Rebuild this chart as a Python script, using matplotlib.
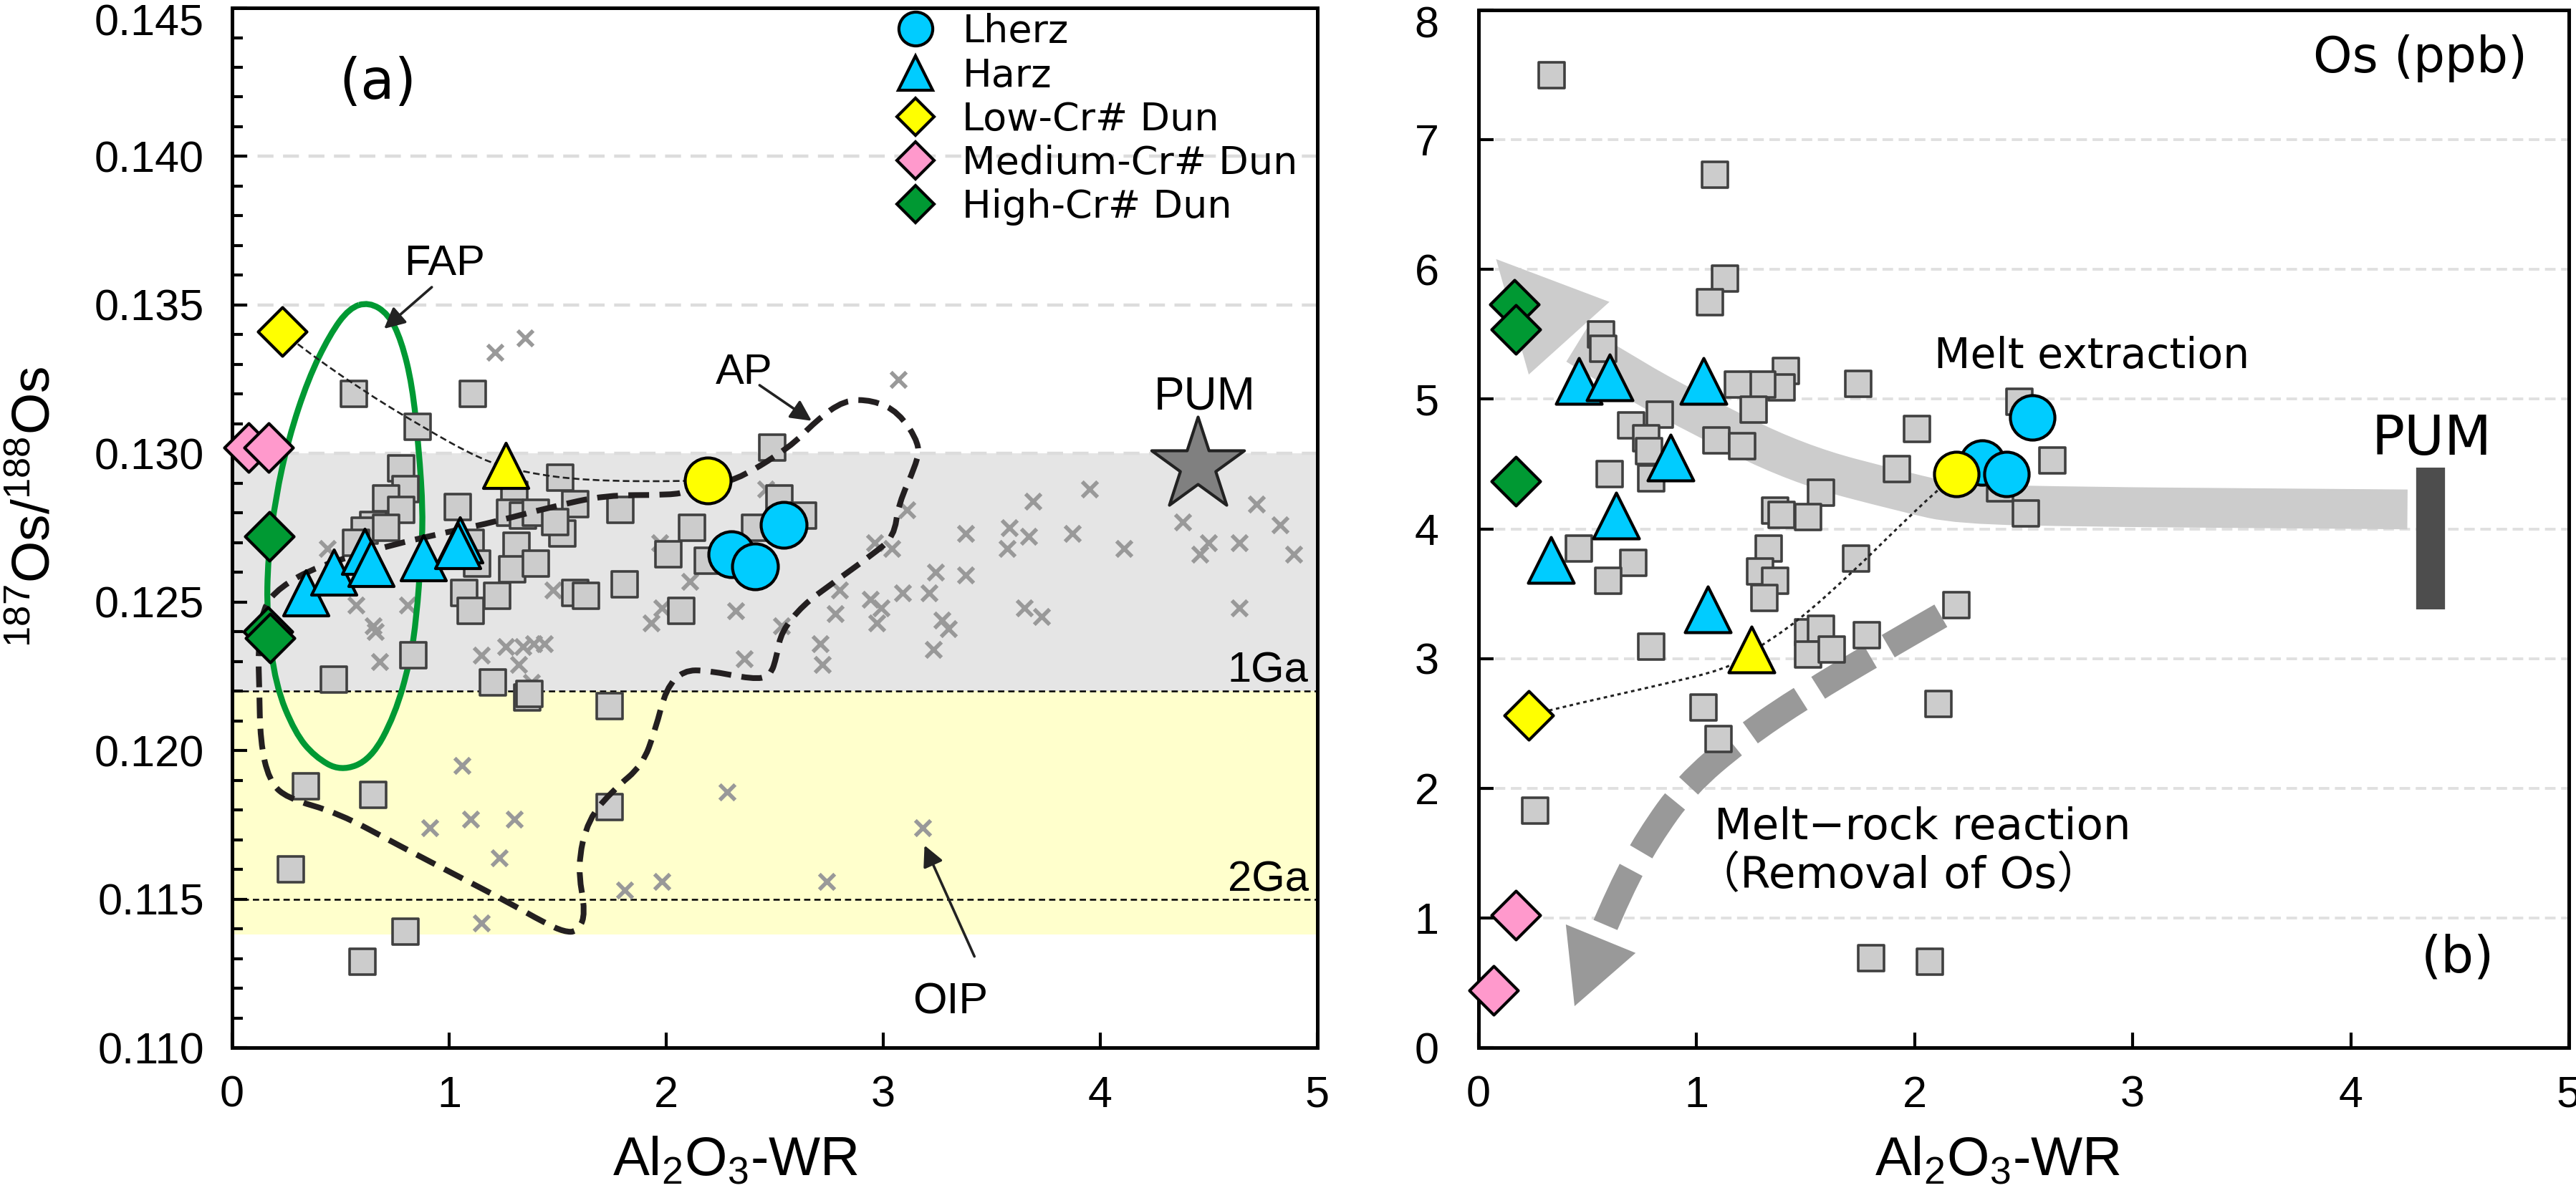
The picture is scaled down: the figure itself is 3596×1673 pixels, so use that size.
import matplotlib
matplotlib.use('Agg')
import matplotlib.pyplot as plt
from matplotlib.path import Path
from matplotlib.patches import PathPatch, Polygon
from matplotlib.lines import Line2D
from matplotlib.transforms import ScaledTranslation

plt.rcParams['font.family'] = ['Liberation Sans', 'DejaVu Sans']
plt.rcParams['mathtext.fontset'] = 'custom'
plt.rcParams['mathtext.rm'] = 'Liberation Sans'
plt.rcParams['mathtext.it'] = 'Liberation Sans:italic'

# ---------------- panel (a): 187Os/188Os vs Al2O3 ----------------
sq_a_x = [0.56, 1.11, 0.855, 2.49, 0.78, 1.51, 0.80, 0.71, 0.78, 1.04, 1.30, 1.58, 1.79, 2.52, 2.63,
          2.12, 2.41, 2.01, 2.19, 1.28, 1.34, 1.40, 1.52, 1.49, 0.65, 0.61, 0.71, 0.57, 1.10, 1.13,
          1.31, 1.29, 1.40, 1.07, 1.22, 1.10, 1.58, 1.63, 1.81, 2.07, 0.835, 0.47, 1.20, 1.36, 1.37,
          1.74, 0.34, 0.65, 1.74, 0.27, 0.80, 0.60]
sq_a_y = [0.1320, 0.1320, 0.1309, 0.1302, 0.1295, 0.1292, 0.1288, 0.1285, 0.1281, 0.1282, 0.1286,
          0.1283, 0.1281, 0.1285, 0.1279, 0.1275, 0.1275, 0.1266, 0.1264, 0.1280, 0.1279, 0.1280,
          0.1273, 0.1277, 0.1276, 0.1274, 0.1275, 0.1270, 0.1270, 0.1263, 0.1269, 0.1261, 0.1263,
          0.1253, 0.1252, 0.1247, 0.1253, 0.1252, 0.1256, 0.1247, 0.1232, 0.1224, 0.1223, 0.1218,
          0.1219, 0.1215, 0.1188, 0.1185, 0.1181, 0.1160, 0.1139, 0.1129]

oip_x = [1.21, 1.35, 3.07, 0.44, 0.57, 0.65, 0.66, 0.68, 0.81, 1.15, 1.26, 1.32, 1.34, 1.39, 1.44,
         1.38, 1.48, 1.97, 2.11, 1.98, 1.93, 2.32, 2.36, 2.53, 2.71, 2.72, 2.78, 2.80, 2.46, 1.06,
         1.10, 1.30, 0.91, 1.23, 1.15, 1.81, 1.98, 2.28, 2.74, 3.95, 3.69, 4.72, 4.83, 4.38, 4.89,
         4.50, 4.46, 4.64, 4.11, 3.87, 3.67, 3.58, 3.57, 3.38, 3.38, 3.24, 3.21, 3.09, 3.11, 3.04,
         2.96, 2.94, 2.99, 2.97, 3.27, 3.30, 3.23, 3.65, 3.73, 4.64, 3.18]
oip_y = [0.1334, 0.1339, 0.1325, 0.1268, 0.1249, 0.1242, 0.1240, 0.1230, 0.1249, 0.1232, 0.1235,
         0.1229, 0.1235, 0.1236, 0.1236, 0.1223, 0.1254, 0.1270, 0.1257, 0.1248, 0.1243, 0.1247,
         0.1231, 0.1242, 0.1236, 0.1229, 0.1246, 0.1254, 0.1288, 0.1195, 0.1177, 0.1177, 0.1174,
         0.1164, 0.1142, 0.1153, 0.1156, 0.1186, 0.1156, 0.1288, 0.1284, 0.1283, 0.1276, 0.1277,
         0.1266, 0.1270, 0.1266, 0.1270, 0.1268, 0.1273, 0.1272, 0.1275, 0.1268, 0.1273, 0.1259,
         0.1260, 0.1253, 0.1253, 0.1281, 0.1268, 0.1270, 0.1251, 0.1248, 0.1243, 0.1244, 0.1241,
         0.1234, 0.1248, 0.1245, 0.1248, 0.1174]

lherz_a_x = [2.54, 2.30, 2.41]
lherz_a_y = [0.1276, 0.1266, 0.1262]
harz_a_x = [0.34, 0.47, 0.61, 0.64, 0.88, 1.05, 1.04]
harz_a_y = [0.1253, 0.1260, 0.1267, 0.1263, 0.1265, 0.1271, 0.1269]
lowcr_a = (0.23, 0.1341)
yel_tri_a = (1.26, 0.1296)
yel_circ_a = (2.19, 0.1291)
medcr_a_x = [0.076, 0.168]
medcr_a_y = [0.1302, 0.1302]
highcr_a_x = [0.17, 0.165, 0.175]
highcr_a_y = [0.1272, 0.1240, 0.1238]
pum_a = (4.45, 0.1296)

# outlines of the fields
fap_x = [0.63, 0.72, 0.78, 0.83, 0.86, 0.88, 0.87, 0.85, 0.82, 0.75, 0.64, 0.50, 0.38, 0.29, 0.20,
         0.16, 0.165, 0.20, 0.26, 0.35, 0.45, 0.54]
fap_y = [0.1351, 0.1347, 0.1338, 0.1323, 0.1302, 0.1280, 0.1265, 0.1245, 0.1230, 0.1212, 0.1197,
         0.1193, 0.1198, 0.1206, 0.1222, 0.1245, 0.1265, 0.1285, 0.1305, 0.1325, 0.1340, 0.1349]
ap_x = [2.19, 2.30, 2.57, 2.69, 2.82, 2.95, 3.07, 3.17, 3.15, 3.07, 3.05, 2.95, 2.76, 2.63, 2.53,
        2.51, 2.48, 2.40, 2.19, 2.08, 2.00, 1.95, 1.89, 1.76, 1.64, 1.59, 1.63, 1.59, 1.53, 1.44,
        1.27, 1.06, 0.77, 0.49, 0.25, 0.17, 0.13, 0.125, 0.12, 0.14, 0.22, 0.39, 0.72, 1.02, 1.21,
        1.47, 1.72, 2.00, 2.10]
ap_y = [0.1291, 0.1290, 0.1302, 0.1311, 0.1318, 0.1318, 0.1314, 0.1303, 0.1296, 0.1283, 0.1272,
        0.1266, 0.1256, 0.1249, 0.1240, 0.1232, 0.1225, 0.1224, 0.1227, 0.1227, 0.1221, 0.1207,
        0.1195, 0.1187, 0.1177, 0.1161, 0.1145, 0.1139, 0.1139, 0.1142, 0.1149, 0.1157, 0.1168,
        0.1179, 0.1184, 0.1190, 0.1203, 0.1222, 0.1234, 0.1248, 0.1255, 0.1262, 0.1269, 0.1274,
        0.1277, 0.1282, 0.1286, 0.1286, 0.1287]
trend_a_x = [0.23, 0.30, 0.58, 0.87, 1.15, 1.34, 1.63, 2.10, 2.19]
trend_a_y = [0.1341, 0.13367, 0.13222, 0.13092, 0.12978, 0.12937, 0.12908, 0.12906, 0.1291]

# ---------------- panel (b): Os (ppb) vs Al2O3 ----------------
sq_b_x = [0.335, 1.085, 1.13, 1.06, 0.56, 0.57, 1.41, 1.39, 1.30, 1.19, 1.26, 1.74, 0.83, 0.70, 0.77,
          0.78, 0.79, 1.09, 1.21, 2.01, 1.92, 0.60, 1.57, 1.36, 1.39, 1.51, 0.46, 0.71, 1.33, 1.73,
          0.595, 1.29, 1.36, 1.31, 0.79, 1.51, 1.57, 1.51, 1.62, 1.78, 2.19, 1.03, 1.10, 2.11, 0.26,
          1.80, 2.07, 2.48, 2.63, 2.51, 2.39]
sq_b_y = [7.50, 6.73, 5.93, 5.75, 5.50, 5.39, 5.22, 5.09, 5.11, 5.11, 4.92, 5.12, 4.88, 4.80, 4.70,
          4.60, 4.39, 4.68, 4.64, 4.77, 4.46, 4.42, 4.28, 4.14, 4.11, 4.09, 3.85, 3.74, 3.85, 3.77,
          3.60, 3.67, 3.60, 3.47, 3.09, 3.20, 3.23, 3.03, 3.07, 3.18, 3.41, 2.62, 2.38, 2.65, 1.83,
          0.69, 0.66, 4.98, 4.53, 4.12, 4.31]
lherz_b_x = [2.31, 2.42, 2.54]
lherz_b_y = [4.51, 4.42, 4.86]
harz_b_x = [0.46, 0.60, 1.03, 0.88, 0.63, 0.33, 1.05]
harz_b_y = [5.14, 5.17, 5.14, 4.55, 4.10, 3.76, 3.38]
lowcr_b = (0.23, 2.56)
yel_tri_b = (1.25, 3.07)
yel_circ_b = (2.19, 4.42)
medcr_b_x = [0.17, 0.07]
medcr_b_y = [1.02, 0.44]
highcr_b_x = [0.165, 0.17, 0.17]
highcr_b_y = [5.73, 5.54, 4.37]
pum_b_x = 4.365
pum_b_range = (3.38, 4.47)

trend_b_x = [0.23, 0.34, 0.79, 1.14, 1.25, 1.46, 1.73, 1.88, 2.11, 2.19]
trend_b_y = [2.56, 2.61, 2.78, 2.92, 3.05, 3.28, 3.69, 3.94, 4.31, 4.42]
melt_x = [4.26, 3.5, 2.8, 2.2, 1.96, 1.46, 0.96, 0.70, 0.45]
melt_y = [4.15, 4.16, 4.17, 4.19, 4.28, 4.50, 4.92, 5.16, 5.42]
melt_head = [(0.08, 6.08), (0.60, 5.75), (0.23, 5.19)]
react_x = [2.12, 1.83, 1.50, 1.20, 0.95, 0.78, 0.65, 0.56]
react_y = [3.33, 3.05, 2.72, 2.38, 2.02, 1.62, 1.22, 0.86]
react_head = [(0.44, 0.32), (0.40, 0.95), (0.72, 0.73)]

CYAN = '#00ccff'
YEL = '#ffff00'
PINK = '#ff99cc'
GREEN = '#009933'
SQ_FC = '#cccccc'
SQ_EC = '#404040'


def smooth(xs, ys, closed=False):
    pts = list(zip(xs, ys))
    n = len(pts)
    mid = lambda a, b: ((a[0] + b[0]) / 2, (a[1] + b[1]) / 2)
    if closed:
        verts = [mid(pts[-1], pts[0])]
        codes = [Path.MOVETO]
        for i in range(n):
            verts += [pts[i], mid(pts[i], pts[(i + 1) % n])]
            codes += [Path.CURVE3, Path.CURVE3]
    else:
        verts = [pts[0]]
        codes = [Path.MOVETO]
        for i in range(1, n - 1):
            end = pts[-1] if i == n - 2 else mid(pts[i], pts[i + 1])
            verts += [pts[i], end]
            codes += [Path.CURVE3, Path.CURVE3]
    return Path(verts, codes)


fig = plt.figure(figsize=(17.98, 8.365), dpi=200)
ax1 = fig.add_axes([0.0901, 0.1255, 0.4213, 0.8679])
ax2 = fig.add_axes([0.5740, 0.1255, 0.4232, 0.8661])

# ---------- panel a ----------
ax1.axhspan(0.122, 0.130, color='#e5e5e5', lw=0, zorder=0)
ax1.axhspan(0.1138, 0.122, color='#ffffcc', lw=0, zorder=0)
for g in [0.140, 0.135, 0.130]:
    ax1.axhline(g, color='#dcdcdc', lw=1.6, ls=(0, (5, 3)), zorder=0.5)
for g in [0.122, 0.115]:
    ax1.axhline(g, color='k', lw=0.9, ls=(0, (3.5, 2.2)), zorder=1)

ax1.scatter(oip_x, oip_y, marker='x', s=60, color='#999999', linewidths=2.0, zorder=2)
ax1.add_patch(PathPatch(smooth(fap_x, fap_y, closed=True), fill=False, edgecolor=GREEN,
                        lw=3.0, zorder=2.5))
ax1.scatter(sq_a_x, sq_a_y, marker='s', s=160, facecolor=SQ_FC, edgecolor=SQ_EC,
            linewidths=1.3, zorder=3)
ax1.add_patch(PathPatch(smooth(ap_x, ap_y, closed=True), fill=False, edgecolor='#231f20',
                        lw=2.9, ls=(0, (3.6, 1.8)), zorder=3.5))
ax1.add_patch(PathPatch(smooth(trend_a_x, trend_a_y), fill=False, edgecolor='#222222',
                        lw=0.95, ls=(0, (3.5, 1.8)), zorder=3.6))

ax1.scatter(lherz_a_x, lherz_a_y, marker='o', s=530, facecolor=CYAN, edgecolor='k',
            linewidths=1.5, zorder=4)
ax1.scatter(harz_a_x, harz_a_y, marker='^', s=515, facecolor=CYAN, edgecolor='k',
            linewidths=1.5, zorder=4.2)
ax1.scatter(*yel_circ_a, marker='o', s=530, facecolor=YEL, edgecolor='k', linewidths=1.5, zorder=4)
ax1.scatter(*yel_tri_a, marker='^', s=515, facecolor=YEL, edgecolor='k', linewidths=1.5, zorder=4)
ax1.scatter(*lowcr_a, marker='D', s=300, facecolor=YEL, edgecolor='k', linewidths=1.5, zorder=4.5)
ax1.scatter(medcr_a_x, medcr_a_y, marker='D', s=300, facecolor=PINK, edgecolor='k',
            linewidths=1.5, zorder=4.5, clip_on=False)
ax1.scatter(highcr_a_x, highcr_a_y, marker='D', s=300, facecolor=GREEN, edgecolor='k',
            linewidths=1.5, zorder=4.5)
ax1.scatter(*pum_a, marker='*', s=2400, facecolor='#808080', edgecolor='#222222',
            linewidths=1.5, zorder=4.5)

ax1.text(0.67, 0.14246, '(a)', fontsize=28, family='DejaVu Sans', ha='center', va='center')
ax1.text(4.48, 0.1319, 'PUM', fontsize=23, ha='center', va='center')
ax1.text(0.98, 0.13638, 'FAP', fontsize=21.5, ha='center', va='center')
ax1.text(2.36, 0.13271, 'AP', fontsize=21.5, ha='center', va='center')
ax1.text(3.31, 0.11152, 'OIP', fontsize=22, ha='center', va='center')
ax1.text(4.96, 0.1223, '1Ga', fontsize=21.5, ha='right', va='baseline')
ax1.text(4.96, 0.11527, '2Ga', fontsize=21.5, ha='right', va='baseline')
arrow_kw = dict(arrowstyle='-|>', color='#222222', lw=1.3, mutation_scale=22, shrinkA=0, shrinkB=0)
ax1.annotate('', xy=(0.70, 0.1342), xytext=(0.92, 0.1356), arrowprops=arrow_kw, zorder=5)
ax1.annotate('', xy=(2.67, 0.1311), xytext=(2.43, 0.1323), arrowprops=arrow_kw, zorder=5)
ax1.annotate('', xy=(3.19, 0.11681), xytext=(3.42, 0.11307), arrowprops=arrow_kw, zorder=5)

handles = [
    Line2D([], [], ls='none', marker='o', ms=17, mfc=CYAN, mec='k', mew=1.5),
    Line2D([], [], ls='none', marker='^', ms=17, mfc=CYAN, mec='k', mew=1.5),
    Line2D([], [], ls='none', marker='D', ms=13, mfc=YEL, mec='k', mew=1.5),
    Line2D([], [], ls='none', marker='D', ms=13, mfc=PINK, mec='k', mew=1.5),
    Line2D([], [], ls='none', marker='D', ms=13, mfc=GREEN, mec='k', mew=1.5),
]
labels = ['Lherz', 'Harz', 'Low-Cr# Dun', 'Medium-Cr# Dun', 'High-Cr# Dun']
ax1.legend(handles, labels, loc='upper left', bbox_to_anchor=(0.612, 0.995), frameon=False,
           borderpad=0, borderaxespad=0, handlelength=1.0, handletextpad=0.7,
           labelspacing=0.17, prop={'family': 'DejaVu Sans', 'size': 19.5})

ax1.set_xlim(0, 5)
ax1.set_ylim(0.110, 0.145)
ax1.set_xticks([0, 1, 2, 3, 4, 5])
ax1.set_yticks([0.110, 0.115, 0.120, 0.125, 0.130, 0.135, 0.140, 0.145])
ax1.set_yticklabels(['0.110', '0.115', '0.120', '0.125', '0.130', '0.135', '0.140', '0.145'])
ax1.set_yticks([0.110 + 0.001 * i for i in range(36)], minor=True)
ax1.tick_params(axis='both', which='major', direction='in', length=7.5, width=1.5,
                labelsize=22, pad=14)
ax1.tick_params(axis='y', which='minor', direction='in', length=5.5, width=1.5)
ax1.set_xlabel(r'$\mathregular{Al_2O_3}$-WR', fontsize=27.5)
ax1.xaxis.set_label_coords(0.464, -0.085)
ax1.set_ylabel(r'$\mathregular{^{187}Os/^{188}Os}$', fontsize=27)
ax1.yaxis.set_label_coords(-0.158, 0.52)

# ---------- panel b ----------
for g in range(1, 8):
    ax2.axhline(g, color='#e0e0e0', lw=1.4, ls=(0, (3.8, 2)), zorder=0.5)

ax2.add_patch(PathPatch(smooth(melt_x, melt_y), fill=False, edgecolor='#cccccc', lw=20,
                        capstyle='butt', zorder=1.5))
ax2.add_patch(Polygon(melt_head, closed=True, facecolor='#cccccc', edgecolor='none', zorder=1.5))
ax2.add_patch(PathPatch(smooth(react_x, react_y), fill=False, edgecolor='#999999', lw=13,
                        ls=(0, (2.35, 0.8)), capstyle='butt', zorder=1.5))
ax2.add_patch(Polygon(react_head, closed=True, facecolor='#999999', edgecolor='none', zorder=1.5))
ax2.vlines(pum_b_x, *pum_b_range, color='#4d4d4d', lw=14.5, zorder=2)

ax2.scatter(sq_b_x, sq_b_y, marker='s', s=170, facecolor=SQ_FC, edgecolor=SQ_EC,
            linewidths=1.3, zorder=3)
ax2.add_patch(PathPatch(smooth(trend_b_x, trend_b_y), fill=False, edgecolor='#222222',
                        lw=1.1, ls=(0, (1.6, 1.6)), zorder=3.6))
ax2.scatter(lherz_b_x, lherz_b_y, marker='o', s=500, facecolor=CYAN, edgecolor='k',
            linewidths=1.5, zorder=4)
ax2.scatter(harz_b_x, harz_b_y, marker='^', s=530, facecolor=CYAN, edgecolor='k',
            linewidths=1.5, zorder=4.2)
ax2.scatter(*yel_circ_b, marker='o', s=500, facecolor=YEL, edgecolor='k', linewidths=1.5, zorder=4.3)
ax2.scatter(*yel_tri_b, marker='^', s=530, facecolor=YEL, edgecolor='k', linewidths=1.5, zorder=4.3)
ax2.scatter(*lowcr_b, marker='D', s=300, facecolor=YEL, edgecolor='k', linewidths=1.5, zorder=4.5)
ax2.scatter(medcr_b_x, medcr_b_y, marker='D', s=300, facecolor=PINK, edgecolor='k',
            linewidths=1.5, zorder=4.5, clip_on=False)
ax2.scatter(highcr_b_x, highcr_b_y, marker='D', s=300, facecolor=GREEN, edgecolor='k',
            linewidths=1.5, zorder=4.5)

ax2.text(4.81, 7.63, 'Os (ppb)', fontsize=25, family='DejaVu Sans', ha='right', va='center')
ax2.text(2.09, 5.33, 'Melt extraction', fontsize=21, family='DejaVu Sans', ha='left', va='center')
ax2.text(1.08, 1.70, 'Melt\u2212rock reaction', fontsize=22, family='DejaVu Sans',
         ha='left', va='center')
ax2.text(1.00, 1.32, '\uff08Removal of Os\uff09', fontsize=22,
         family=['DejaVu Sans', 'Noto Sans CJK SC'], ha='left', va='center')
ax2.text(4.37, 4.69, 'PUM', fontsize=27.5, family='DejaVu Sans', ha='center', va='center')
ax2.text(4.49, 0.69, '(b)', fontsize=26, family='DejaVu Sans', ha='center', va='center')

ax2.set_xlim(0, 5)
ax2.set_ylim(0, 8)
ax2.set_xticks([0, 1, 2, 3, 4, 5])
ax2.set_yticks(range(9))
ax2.tick_params(axis='x', which='major', direction='in', length=7.5, width=1.5,
                labelsize=22, pad=14)
ax2.tick_params(axis='y', which='major', direction='in', length=7.5, width=1.5,
                labelsize=22, pad=20)
ax2.set_xlabel(r'$\mathregular{Al_2O_3}$-WR', fontsize=27.5)
ax2.xaxis.set_label_coords(0.476, -0.085)

for ax in (ax1, ax2):
    for sp in ax.spines.values():
        sp.set_linewidth(1.8)
    # top tick label sits a little below the frame top, as in the original
    top_lbl = ax.yaxis.get_major_ticks()[-1].label1
    top_lbl.set_transform(top_lbl.get_transform() +
                          ScaledTranslation(0, -16 / 200, fig.dpi_scale_trans))

fig.savefig('out.png', dpi=200)
